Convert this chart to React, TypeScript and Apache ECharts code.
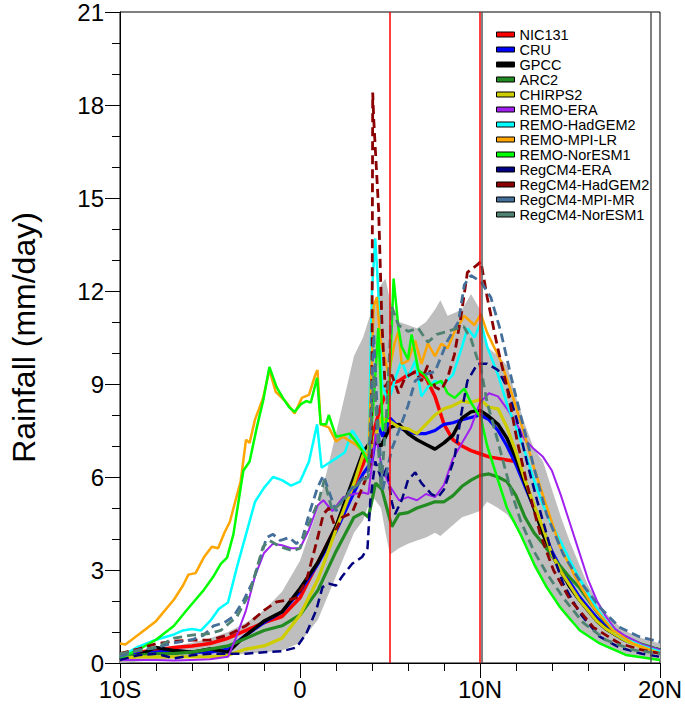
import React, { useEffect, useRef } from "react";
import * as echarts from "echarts";

const FONT = "'Liberation Sans', Arial, Helvetica, sans-serif";

// x positions (latitude, negative = S) and tick values
const X_TICKS = [-10, 0, 10, 20];
const Y_TICKS = [0, 3, 6, 9, 12, 15, 18, 21];
const REF_LINES_RED = [5, 10];
const REF_LINES_GREY = [10.1, 19.5];

// spread band
const BAND_LAT = [-10, -9, -8, -7, -6, -5, -4, -3, -2, -1, 0, 1, 2, 3, 3.5, 4, 4.5, 4.75, 5, 5.5, 6, 6.5, 7, 7.5, 7.8, 8.2, 8.6, 9, 9.5, 10, 10.4, 11, 11.5, 12, 12.5, 13, 13.5, 14, 14.5, 15, 16, 17, 18, 19, 20];
const BAND_LOW = [0.0, 0.05, 0.1, 0.15, 0.2, 0.22, 0.25, 0.3, 0.35, 0.4, 0.65, 1.4, 2.8, 4.2, 4.6, 5.4, 5.0, 4.2, 3.5, 3.7, 3.85, 3.95, 4.05, 4.2, 4.1, 4.3, 4.5, 4.7, 4.8, 4.9, 5.2, 5.0, 4.8, 4.4, 3.8, 3.1, 2.6, 2.2, 1.7, 1.35, 0.85, 0.5, 0.3, 0.18, 0.1];
const BAND_HIGH = [0.25, 0.35, 0.45, 0.55, 0.65, 0.8, 1.0, 1.3, 1.7, 2.3, 3.3, 5.0, 7.4, 9.9, 10.5, 11.4, 12.2, 12.4, 11.7, 11.0, 10.9, 10.8, 11.0, 11.4, 11.7, 11.2, 11.3, 11.4, 11.9, 11.4, 10.2, 9.9, 9.6, 8.6, 7.7, 6.9, 6.5, 5.6, 4.7, 3.9, 2.5, 1.6, 1.05, 0.8, 0.63];

const NIC131: [number, number][] = [[-10, 0.3], [-9, 0.35], [-8, 0.42], [-7, 0.5], [-6, 0.55], [-5, 0.63], [-4, 0.8], [-3, 1.05], [-2, 1.3], [-1, 1.5], [0, 2.1], [1, 3.25], [2, 4.4], [3, 5.75], [3.5, 6.4], [4, 7.3], [4.5, 8.3], [5, 9.0], [5.5, 9.1], [6, 9.3], [6.5, 9.4], [7, 9.2], [7.5, 8.6], [8, 7.7], [8.5, 7.2], [9, 7.0], [9.5, 6.85], [10, 6.75], [10.5, 6.65], [11, 6.6], [11.5, 6.55], [12, 6.5]];

const CRU: [number, number][] = [[-10, 0.15], [-9, 0.3], [-8, 0.35], [-7, 0.4], [-6, 0.35], [-5, 0.35], [-4, 0.45], [-3, 0.9], [-2, 1.3], [-1, 1.65], [0, 2.3], [1, 3.2], [2, 4.25], [3, 5.5], [3.5, 6.1], [4, 6.5], [4.3, 7.7], [4.6, 7.3], [5, 7.9], [5.5, 7.6], [6, 7.45], [6.5, 7.4], [7, 7.4], [7.5, 7.5], [8, 7.7], [8.5, 7.75], [9, 7.85], [9.5, 7.92], [10, 8.0], [10.5, 7.85], [11, 7.5], [11.5, 7.0], [12, 6.4], [12.5, 5.7], [13, 5.0], [13.5, 4.3], [14, 3.6], [14.5, 3.05], [15, 2.6], [15.5, 2.15], [16, 1.8], [16.5, 1.45], [17, 1.2], [18, 0.8], [19, 0.55], [20, 0.42]];

const GPCC: [number, number][] = [[-10, 0.1], [-9, 0.25], [-8, 0.5], [-7, 0.4], [-6, 0.35], [-5, 0.45], [-4, 0.35], [-3, 0.9], [-2, 1.35], [-1, 1.65], [0, 2.4], [1, 3.25], [2, 4.4], [3, 6.0], [3.5, 6.8], [4, 7.2], [4.5, 7.0], [5, 7.6], [5.5, 7.7], [6, 7.4], [6.5, 7.2], [7, 7.05], [7.5, 6.9], [8, 7.1], [8.5, 7.35], [9, 7.9], [9.5, 8.1], [10, 8.15], [10.5, 7.95], [11, 7.7], [11.5, 7.25], [12, 6.6], [12.5, 5.8], [13, 5.0], [13.5, 4.15], [14, 3.5], [14.5, 2.95], [15, 2.45], [15.5, 2.05], [16, 1.7], [16.5, 1.35], [17, 1.1], [18, 0.75], [19, 0.55], [20, 0.42]];

const ARC2: [number, number][] = [[-10, 0.2], [-9, 0.25], [-8, 0.3], [-7, 0.3], [-6, 0.35], [-5, 0.45], [-4, 0.55], [-3, 0.8], [-2, 1.05], [-1, 1.2], [0, 1.55], [1, 2.35], [2, 3.6], [3, 4.7], [3.5, 4.85], [3.8, 4.7], [4.2, 5.8], [4.55, 5.6], [5.1, 4.4], [5.5, 4.8], [6, 4.85], [6.5, 5.0], [7, 5.1], [7.5, 5.2], [8, 5.2], [8.5, 5.4], [9, 5.7], [9.5, 5.9], [10, 6.05], [10.5, 6.1], [11, 6.0], [11.5, 5.85], [12, 5.4], [12.5, 4.7], [13, 4.2], [13.5, 3.85], [14, 3.45], [14.5, 3.1], [15, 2.75], [15.5, 2.45], [16, 2.05], [16.5, 1.65], [17, 1.3], [17.5, 1.0], [18, 0.85], [19, 0.6], [20, 0.42]];

const CHIRPS2: [number, number][] = [[-10, 0.15], [-9, 0.2], [-8, 0.2], [-7, 0.2], [-6, 0.2], [-5, 0.2], [-4, 0.25], [-3, 0.45], [-2, 0.55], [-1, 0.8], [0, 1.55], [1, 2.7], [2, 4.3], [3, 5.8], [3.5, 6.7], [4, 7.0], [4.5, 7.9], [5, 7.8], [5.5, 7.6], [6, 7.55], [6.5, 7.4], [7, 7.7], [7.5, 8.0], [8, 8.2], [8.5, 8.3], [9, 8.45], [9.5, 8.4], [10, 8.5], [10.5, 8.25], [11, 8.2], [11.5, 7.6], [12, 6.8], [12.5, 5.9], [13, 5.1], [13.5, 4.35], [14, 3.5], [14.5, 2.95], [15, 2.5], [15.5, 2.05], [16, 1.7], [16.5, 1.35], [17, 1.1], [18, 0.75], [19, 0.5], [20, 0.37]];

const REMO_ERA: [number, number][] = [[-10, 0.1], [-9, 0.1], [-8, 0.1], [-7, 0.08], [-6, 0.1], [-5, 0.12], [-4, 0.2], [-3.6, 0.75], [-3, 1.7], [-2.5, 2.8], [-2, 3.55], [-1.5, 3.85], [-1, 3.8], [-0.5, 3.7], [0, 3.7], [0.5, 4.3], [1, 5.1], [1.3, 5.25], [1.8, 4.9], [2.4, 5.35], [3, 5.45], [3.5, 5.5], [3.8, 5.45], [4.2, 7.4], [4.55, 6.3], [5, 5.7], [5.5, 5.25], [6, 5.35], [6.5, 5.25], [7, 5.45], [7.5, 5.35], [8, 5.75], [8.5, 6.6], [9, 7.1], [9.5, 7.6], [10, 8.4], [10.5, 8.7], [11, 8.6], [11.5, 8.2], [12, 7.75], [12.5, 7.2], [13, 6.9], [13.5, 6.65], [14, 6.2], [14.5, 5.4], [15, 4.5], [15.5, 3.6], [16, 2.7], [16.5, 2.0], [17, 1.5], [17.5, 1.1], [18, 0.9], [19, 0.6], [20, 0.42]];

const REMO_HADGEM2: [number, number][] = [[-10, 0.2], [-9, 0.52], [-8, 0.75], [-7, 0.92], [-6.5, 1.05], [-6, 1.1], [-5.5, 1.05], [-5, 1.35], [-4.5, 1.75], [-4, 1.95], [-3.5, 3.1], [-3, 4.15], [-2.5, 5.2], [-2, 5.65], [-1.5, 6.0], [-1, 5.9], [-0.5, 5.72], [0, 5.85], [0.5, 6.5], [0.95, 7.7], [1.2, 6.3], [1.6, 6.45], [2, 6.6], [2.5, 6.8], [2.9, 7.5], [3.3, 7.15], [3.8, 6.6], [4.0, 12.0], [4.18, 13.7], [4.35, 12.0], [4.55, 9.0], [4.9, 8.4], [5.3, 9.2], [5.65, 9.75], [6.0, 9.2], [6.4, 9.75], [6.75, 8.6], [7.1, 8.9], [7.5, 9.1], [8, 9.0], [8.5, 9.3], [9.0, 10.2], [9.3, 10.8], [9.7, 10.5], [10.05, 11.0], [10.4, 10.2], [11, 9.3], [11.5, 8.35], [12, 7.6], [12.5, 6.8], [13, 5.9], [13.5, 5.1], [14, 4.45], [14.5, 3.9], [15, 3.3], [15.5, 2.75], [16, 2.25], [16.5, 1.75], [17, 1.35], [17.5, 1.0], [18, 0.8], [19, 0.55], [20, 0.37]];

const REMO_MPI_LR: [number, number][] = [[-10, 0.63], [-9.7, 0.6], [-9, 0.9], [-8, 1.35], [-7, 2.05], [-6.5, 2.5], [-6.2, 2.85], [-5.8, 2.9], [-5.35, 3.4], [-4.9, 3.75], [-4.55, 3.7], [-4.2, 4.2], [-3.9, 4.55], [-3.6, 5.2], [-3.3, 5.85], [-3.0, 7.2], [-2.8, 7.1], [-2.5, 7.85], [-2.05, 8.55], [-1.7, 9.45], [-1.35, 8.75], [-1.0, 8.55], [-0.75, 8.4], [-0.3, 8.05], [0.1, 8.55], [0.5, 8.65], [0.85, 9.3], [0.97, 9.45], [1.15, 7.7], [1.6, 7.6], [2.0, 7.15], [2.4, 7.3], [2.8, 7.15], [3.1, 7.05], [3.45, 6.85], [3.8, 6.65], [4.09, 11.5], [4.27, 11.8], [4.45, 10.5], [4.6, 10.1], [4.92, 9.3], [5.25, 10.3], [5.47, 10.7], [5.65, 9.65], [6.0, 9.75], [6.4, 10.4], [6.75, 9.65], [7.1, 10.3], [7.5, 9.9], [7.85, 10.3], [8.2, 10.15], [8.6, 10.7], [9.13, 11.2], [9.5, 11.0], [9.68, 10.9], [10.05, 11.25], [10.4, 10.65], [11.15, 9.75], [11.7, 8.8], [12.25, 7.8], [13, 6.3], [13.7, 5.05], [14.45, 3.75], [15.4, 2.65], [16.3, 1.8], [17.4, 1.05], [18.5, 0.63], [20, 0.31]];

const REMO_NORESM1: [number, number][] = [[-10, 0.15], [-9, 0.42], [-8, 0.75], [-7, 1.2], [-6.3, 1.7], [-5.35, 2.35], [-4.8, 2.8], [-4.4, 3.2], [-4.05, 3.4], [-3.7, 4.15], [-3.15, 6.2], [-2.8, 6.5], [-2.4, 7.6], [-2.05, 8.45], [-1.7, 9.55], [-1.3, 8.9], [-0.95, 8.55], [-0.6, 8.25], [-0.3, 8.1], [0.05, 8.35], [0.35, 8.45], [0.6, 8.4], [0.95, 9.2], [1.15, 7.7], [1.45, 7.7], [1.6, 8.0], [2.0, 7.3], [2.4, 7.35], [2.75, 7.4], [3.1, 7.15], [3.45, 6.85], [3.8, 6.45], [4.1, 8.5], [4.35, 10.8], [4.6, 7.5], [4.9, 8.0], [5.2, 12.4], [5.47, 10.8], [5.65, 10.2], [6.0, 9.8], [6.2, 10.6], [6.57, 9.45], [6.93, 9.3], [7.3, 8.95], [7.85, 9.1], [8.2, 8.7], [8.6, 8.55], [9.13, 8.85], [9.5, 8.4], [10.05, 7.9], [10.4, 7.0], [11.0, 5.9], [11.5, 5.0], [12.25, 4.15], [13, 3.2], [13.7, 2.45], [14.45, 1.8], [15.55, 1.05], [16.65, 0.63], [18.1, 0.26], [20, 0.1]];

const REGCM4_ERA: [number, number][] = [[-10, 0.1], [-9, 0.25], [-8, 0.3], [-7, 0.15], [-6, 0.25], [-5, 0.3], [-4, 0.3], [-3, 0.3], [-2, 0.35], [-1, 0.38], [-0.2, 0.5], [0.35, 0.95], [0.9, 1.7], [1.25, 2.45], [1.6, 2.56], [2.0, 2.5], [2.35, 2.8], [2.9, 3.2], [3.45, 3.42], [3.75, 3.7], [3.9, 5.2], [4.18, 6.5], [4.55, 5.9], [4.82, 6.3], [5.1, 5.2], [5.28, 4.8], [5.65, 5.25], [6.0, 5.9], [6.4, 6.15], [6.75, 5.8], [7.3, 5.45], [7.67, 5.35], [8.0, 5.6], [8.58, 6.6], [8.95, 8.0], [9.3, 9.1], [9.86, 9.65], [10.4, 9.65], [11.0, 9.45], [11.5, 8.9], [12.07, 7.8], [12.6, 6.5], [13.17, 5.25], [13.9, 3.75], [14.63, 2.55], [15.55, 1.6], [16.65, 0.85], [17.75, 0.5], [19, 0.3], [20, 0.2]];

const REGCM4_HADGEM2: [number, number][] = [[-10, 0.3], [-9, 0.45], [-8, 0.62], [-7, 0.7], [-6, 0.74], [-5, 0.74], [-4, 0.9], [-3, 1.2], [-2, 1.7], [-1.3, 1.97], [-0.5, 2.05], [-0.2, 2.1], [0.35, 2.65], [0.9, 3.85], [1.3, 4.8], [1.6, 5.0], [2.0, 4.3], [2.35, 4.7], [2.9, 4.85], [3.63, 5.9], [3.95, 6.5], [4.0, 9.7], [4.04, 18.4], [4.1, 17.5], [4.37, 14.6], [4.55, 11.0], [4.73, 8.9], [5.1, 9.3], [5.47, 8.7], [5.83, 9.2], [6.4, 9.4], [6.75, 9.1], [7.1, 9.6], [7.5, 8.9], [7.85, 8.8], [8.2, 9.2], [8.58, 9.95], [8.95, 11.2], [9.3, 12.6], [9.86, 12.85], [10.05, 12.95], [10.4, 11.8], [10.97, 10.2], [11.5, 8.9], [12.07, 7.15], [12.6, 5.8], [13.35, 4.15], [14.08, 3.0], [15, 2.05], [16.3, 1.15], [17.75, 0.63], [19, 0.42], [20, 0.31]];

const REGCM4_MPI_MR: [number, number][] = [[-10, 0.2], [-9, 0.42], [-8, 0.5], [-7, 0.65], [-6, 0.75], [-5.35, 0.9], [-4.8, 1.2], [-4.2, 1.3], [-3.7, 1.5], [-3.15, 2.0], [-2.6, 2.65], [-2.25, 3.3], [-1.85, 4.05], [-1.5, 4.15], [-1.1, 3.95], [-0.6, 4.05], [-0.2, 3.85], [0.15, 4.05], [0.5, 4.8], [0.97, 5.65], [1.3, 6.05], [1.6, 5.55], [2.0, 4.9], [2.35, 5.25], [2.9, 5.65], [3.4, 5.9], [3.8, 6.2], [4.1, 10.6], [4.3, 8.0], [4.6, 5.6], [5.1, 6.9], [5.5, 7.5], [6.0, 8.3], [6.4, 9.1], [6.9, 9.3], [7.5, 9.4], [8.2, 10.4], [8.8, 11.0], [9.13, 12.2], [9.5, 12.5], [10.05, 12.3], [10.6, 11.8], [11.15, 10.7], [11.7, 9.3], [12.25, 8.0], [13, 6.3], [13.7, 4.8], [14.63, 3.5], [15.55, 2.65], [16.65, 1.8], [17.75, 1.15], [18.85, 0.85], [20, 0.68]];

const REGCM4_NORESM1: [number, number][] = [[-10, 0.3], [-9, 0.4], [-8, 0.5], [-7, 0.8], [-6, 0.9], [-5, 0.95], [-4.4, 1.05], [-3.5, 1.5], [-2.8, 2.25], [-2.05, 3.75], [-1.7, 3.95], [-1.1, 3.75], [-0.4, 3.62], [0, 3.7], [0.35, 4.3], [1.05, 5.25], [1.35, 5.9], [1.8, 4.9], [2.35, 5.2], [2.9, 5.6], [3.4, 5.85], [3.8, 6.0], [4.1, 9.3], [4.5, 5.6], [4.8, 8.0], [5.1, 11.5], [5.47, 10.9], [6.0, 10.7], [6.57, 10.8], [7.1, 10.35], [7.6, 10.6], [8.2, 10.7], [8.77, 10.8], [9.1, 10.85], [9.5, 10.45], [9.86, 9.8], [10.05, 9.5], [10.4, 8.4], [10.97, 7.2], [11.7, 5.6], [12.25, 4.6], [13, 3.6], [13.7, 2.9], [14.63, 2.1], [15.73, 1.3], [17, 0.74], [18.5, 0.42], [20, 0.3]];

const SERIES_NAMES = ["NIC131", "CRU", "GPCC", "ARC2", "CHIRPS2", "REMO-ERA", "REMO-HadGEM2", "REMO-MPI-LR", "REMO-NorESM1", "RegCM4-ERA", "RegCM4-HadGEM2", "RegCM4-MPI-MR", "RegCM4-NorESM1"];
const SERIES_DATA = [NIC131, CRU, GPCC, ARC2, CHIRPS2, REMO_ERA, REMO_HADGEM2, REMO_MPI_LR, REMO_NORESM1, REGCM4_ERA, REGCM4_HADGEM2, REGCM4_MPI_MR, REGCM4_NORESM1];
const SERIES_COLORS = ["#FF0000", "#0000FF", "#000000", "#228B22", "#CDCD00", "#A020F0", "#00FFFF", "#FFA500", "#00FF00", "#000080", "#8B0000", "#436F9A", "#4F8272"];
const SERIES_WIDTHS = [3.5, 3.2, 3.5, 3.2, 3.2, 2, 2.5, 2.5, 2.5, 2.5, 2.8, 2.8, 2.8];
const SERIES_DASHED = [false, false, false, false, false, false, false, false, false, true, true, true, true];

export default function App() {
  const ref = useRef<HTMLDivElement>(null);
  useEffect(() => {
    document.body.style.margin = "0";
    const chart = echarts.init(ref.current as HTMLDivElement, null, { renderer: "svg" });

    const bandData = BAND_LAT.map((l, i) => [l, BAND_LOW[i], BAND_HIGH[i]]);

    const lineSeries = SERIES_NAMES.map((name, i) => ({
      name,
      type: "line",
      data: SERIES_DATA[i],
      z: 3,
      showSymbol: false,
      symbol: "none",
      smooth: false,
      color: SERIES_COLORS[i],
      lineStyle: {
        color: SERIES_COLORS[i],
        width: SERIES_WIDTHS[i],
        type: SERIES_DASHED[i] ? [9, 5] : "solid",
      },
      itemStyle: { color: SERIES_COLORS[i] },
    }));

    const option: any = {
      animation: false,
      backgroundColor: "#ffffff",
      grid: {
        left: 116,
        right: 24,
        top: 10,
        bottom: 58,
        show: true,
        borderColor: "#000",
        borderWidth: 1,
        backgroundColor: "transparent",
      },
      xAxis: {
        type: "value",
        min: X_TICKS[0],
        max: X_TICKS[X_TICKS.length - 1],
        interval: 10,
        axisLine: { show: true, onZero: false, lineStyle: { color: "#000", width: 1 } },
        axisTick: { show: true, inside: false, length: 15, lineStyle: { color: "#000", width: 1 } },
        minorTick: { show: true, splitNumber: 5, length: 8, lineStyle: { color: "#000", width: 1 } },
        splitLine: { show: false },
        axisLabel: {
          fontSize: 24,
          color: "#000",
          fontFamily: FONT,
          margin: 14,
          formatter: (v: number) => (v < 0 ? `${-v}S` : v > 0 ? `${v}N` : "0"),
        },
      },
      yAxis: {
        type: "value",
        min: Y_TICKS[0],
        max: Y_TICKS[Y_TICKS.length - 1],
        interval: 3,
        name: "Rainfall (mm/day)",
        nameLocation: "middle",
        nameGap: 80,
        nameTextStyle: { fontSize: 32, color: "#000", fontFamily: FONT },
        axisLine: { show: true, onZero: false, lineStyle: { color: "#000", width: 1 } },
        axisTick: { show: true, inside: false, length: 15, lineStyle: { color: "#000", width: 1 } },
        minorTick: { show: true, splitNumber: 3, length: 8, lineStyle: { color: "#000", width: 1 } },
        splitLine: { show: false },
        axisLabel: { fontSize: 24, color: "#000", fontFamily: FONT, margin: 16 },
      },
      legend: {
        orient: "vertical",
        left: 496,
        top: 27,
        padding: 0,
        itemWidth: 18,
        itemHeight: 5,
        itemGap: 0,
        icon: "rect",
        selectedMode: false,
        itemStyle: { borderColor: "#000", borderWidth: 1 },
        textStyle: { fontSize: 14.5, color: "#000", fontFamily: FONT, lineHeight: 14.75 },
        data: SERIES_NAMES,
      },
      series: [
        {
          name: "spread",
          type: "custom",
          z: 1,
          silent: true,
          data: bandData,
          encode: { x: 0, y: [1, 2] },
          renderItem: (params: any, api: any) => {
            if (params.dataIndex !== 0) return null;
            const top = BAND_LAT.map((l, i) => api.coord([l, BAND_HIGH[i]]));
            const bot = BAND_LAT.map((l, i) => api.coord([l, BAND_LOW[i]])).reverse();
            return {
              type: "polygon",
              shape: { points: top.concat(bot) },
              style: { fill: "#BEBEBE", stroke: "none" },
            };
          },
        },
        {
          name: "refs",
          type: "line",
          z: 2,
          data: [],
          silent: true,
          markLine: {
            silent: true,
            symbol: ["none", "none"],
            label: { show: false },
            lineStyle: { color: "#FF0000", width: 1.5, type: "solid" },
            data: [
              ...REF_LINES_RED.map((v) => ({ xAxis: v, lineStyle: { color: "#FF0000", width: 1.5, type: "solid" } })),
              ...REF_LINES_GREY.map((v) => ({ xAxis: v, lineStyle: { color: "#555555", width: 1.5, type: "solid" } })),
            ],
          },
        },
        ...lineSeries,
      ],
    };

    chart.setOption(option);
    return () => chart.dispose();
  }, []);

  return <div ref={ref} style={{ width: 685, height: 721 }} />;
}
